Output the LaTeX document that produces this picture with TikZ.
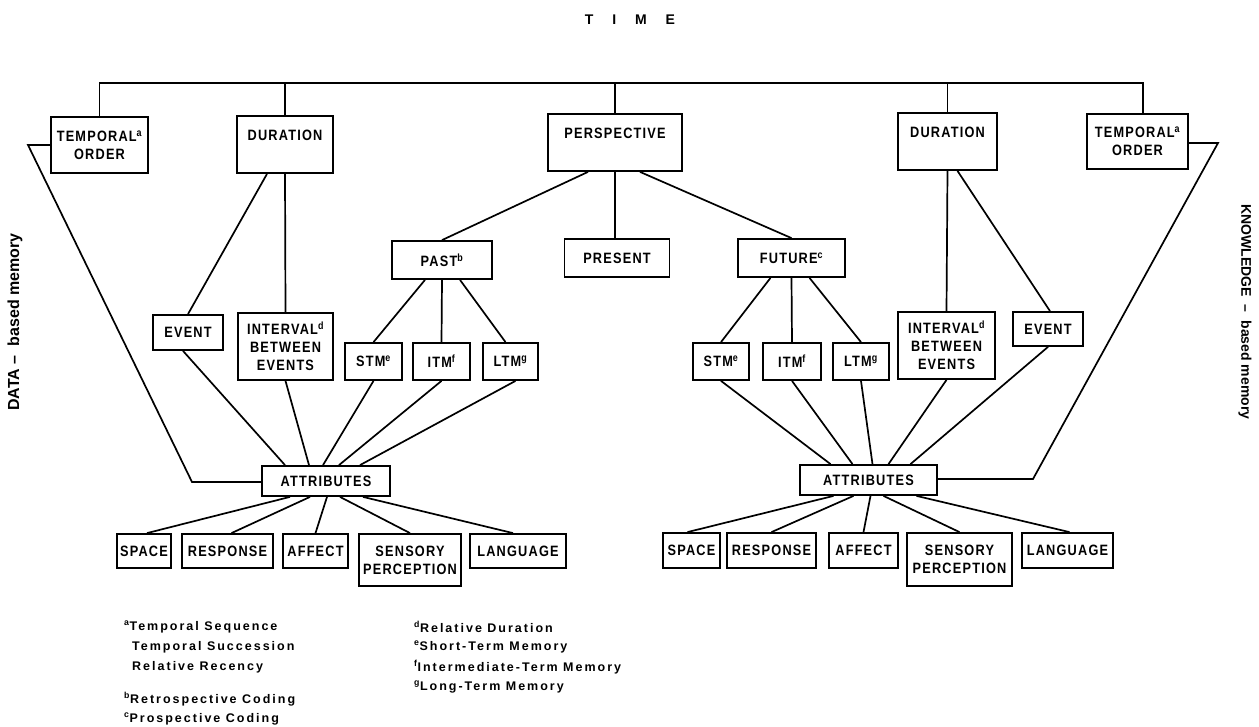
\documentclass[tikz,border=0pt]{standalone}
\usepackage{fontspec}
\setmainfont{Liberation Sans}
\newfontfamily\boxfont{Liberation Sans}[LetterSpace=8,FakeStretch=0.85]
\newfontfamily\notefont{Liberation Sans}[LetterSpace=16]
\usetikzlibrary{calc}
\begin{document}
\begin{tikzpicture}[x=1pt,y=-1pt,
  box/.style={draw, line width=1.8pt, inner sep=0pt, align=center,
    font=\boxfont\bfseries\fontsize{15}{18}\selectfont},
  ln/.style={line width=1.7pt},
  fn/.style={anchor=west, inner sep=0pt, font=\notefont\bfseries\fontsize{12.5}{14}\selectfont},
  side/.style={inner sep=0pt, font=\bfseries}]
\useasboundingbox (0,0) rectangle (1259,727);

\node[inner sep=0pt, font=\bfseries\fontsize{14}{16}\selectfont] (time) at (630,20) {T\hspace{1.35em}I\hspace{1.35em}M\hspace{1.35em}E};

% top row
\node[box, minimum width=97pt, minimum height=56pt] (tol) at (99.5,145) {TEMPORAL\textsuperscript{a}\\ORDER};
\node[box, minimum width=96pt, minimum height=57pt] (durl) at (285,144.5) {DURATION\\[-5pt]\strut};
\node[box, minimum width=134pt, minimum height=57pt] (persp) at (615,142.5) {PERSPECTIVE\\[-5pt]\strut};
\node[box, minimum width=99pt, minimum height=57pt] (durr) at (947.5,141.5) {DURATION\\[-5pt]\strut};
\node[box, minimum width=101pt, minimum height=55pt] (tor) at (1137.5,141.5) {TEMPORAL\textsuperscript{a}\\ORDER};

% perspective row
\node[box, minimum width=100pt, minimum height=38pt] (past) at (442,260) {PAST\textsuperscript{b}};
\node[box, minimum width=105pt, minimum height=38pt] (present) at (617,258) {PRESENT};
\node[box, minimum width=107pt, minimum height=38pt] (future) at (791.5,258) {FUTURE\textsuperscript{c}};

% memory row
\node[box, minimum width=70pt, minimum height=35pt] (eventl) at (188,332.5) {EVENT};
\node[box, minimum width=95pt, minimum height=67pt] (intl) at (285.5,346.5) {INTERVAL\textsuperscript{d}\\BETWEEN\\EVENTS};
\node[box, minimum width=57pt, minimum height=37pt] (stml) at (373.5,361.5) {STM\textsuperscript{e}};
\node[box, minimum width=57pt, minimum height=37pt] (itml) at (441.5,361.5) {ITM\textsuperscript{f}};
\node[box, minimum width=55pt, minimum height=37pt] (ltml) at (510.5,361.5) {LTM\textsuperscript{g}};
\node[box, minimum width=56pt, minimum height=37pt] (stmr) at (721,361.5) {STM\textsuperscript{e}};
\node[box, minimum width=58pt, minimum height=37pt] (itmr) at (792,361.5) {ITM\textsuperscript{f}};
\node[box, minimum width=56pt, minimum height=37pt] (ltmr) at (861,361.5) {LTM\textsuperscript{g}};
\node[box, minimum width=97pt, minimum height=67pt] (intr) at (946.5,345.5) {INTERVAL\textsuperscript{d}\\BETWEEN\\EVENTS};
\node[box, minimum width=70pt, minimum height=34pt] (eventr) at (1048,329) {EVENT};

% attributes
\node[box, minimum width=128pt, minimum height=30pt] (attrl) at (326,481) {ATTRIBUTES};
\node[box, minimum width=137pt, minimum height=30pt] (attrr) at (868.5,480) {ATTRIBUTES};

% bottom row left
\node[box, minimum width=54pt, minimum height=34pt] (spacel) at (144,551) {SPACE};
\node[box, minimum width=91pt, minimum height=34pt] (respl) at (227.5,551) {RESPONSE};
\node[box, minimum width=65pt, minimum height=34pt] (affl) at (315.5,551) {AFFECT};
\node[box, minimum width=102pt, minimum height=52pt] (sensl) at (410,560) {SENSORY\\PERCEPTION};
\node[box, minimum width=96pt, minimum height=34pt] (langl) at (518,551) {LANGUAGE};
% bottom row right
\node[box, minimum width=57pt, minimum height=35pt] (spacer) at (691.5,550.5) {SPACE};
\node[box, minimum width=89pt, minimum height=35pt] (respr) at (771.5,550.5) {RESPONSE};
\node[box, minimum width=69pt, minimum height=35pt] (affr) at (863.5,550.5) {AFFECT};
\node[box, minimum width=105pt, minimum height=53pt] (sensr) at (959.5,559.5) {SENSORY\\PERCEPTION};
\node[box, minimum width=91pt, minimum height=35pt] (langr) at (1067.5,550.5) {LANGUAGE};

% side labels
\node[side, rotate=90, font=\bfseries\fontsize{16}{18}\selectfont] (datal) at (15,322) {DATA\ -- \ based memory};
\node[side, rotate=-90, font=\bfseries\fontsize{14}{16}\selectfont] (knowl) at (1245,312) {KNOWLEDGE\ \ --\ \ based memory};

% footnotes
\node[fn] (fa1) at (124,627) {\textsuperscript{a}Temporal Sequence};
\node[fn] (fa2) at (132,647) {Temporal Succession};
\node[fn] (fa3) at (132,667) {Relative Recency};
\node[fn] (fb) at (124,699) {\textsuperscript{b}Retrospective Coding};
\node[fn] (fc) at (124,719) {\textsuperscript{c}Prospective Coding};
\node[fn] (fd) at (414,627) {\textsuperscript{d}Relative Duration};
\node[fn] (fe) at (414,647) {\textsuperscript{e}Short-Term Memory};
\node[fn] (ff) at (414,667) {\textsuperscript{f}Intermediate-Term Memory};
\node[fn] (fg) at (414,687) {\textsuperscript{g}Long-Term Memory};

% connectors: top bar
\coordinate (bar) at (0,83);
\draw[ln] (tol.north) -- (tol.north |- bar) -| ([xshift=5.5pt]tor.north);
\draw[ln] (durl.north) -- (durl.north |- bar);
\draw[ln] (persp.north) -- (persp.north |- bar);
\draw[ln] (durr.north) -- (durr.north |- bar);

% temporal order side lines
\coordinate (tl1) at (28,144);
\coordinate (tl2) at (192,482);
\draw[ln] (tol.west) -- (tol.west -| tl1) -- (tl2) -- (tl2 -| attrl.west);
\coordinate (tr1) at (1218,140);
\coordinate (tr2) at (1033,479);
\draw[ln] ([yshift=-1.5pt]tor.east) -- ([yshift=-1.5pt]tor.east -| tr1) -- (tr2) -- (tr2 -| attrr.east);

% duration
\draw[ln] (durl.south) -- (intl.north);
\draw[ln] ([xshift=-18pt]durl.south) -- (eventl.north);
\draw[ln] (durr.south) -- (intr.north);
\draw[ln] ([xshift=10pt]durr.south) -- ([xshift=2pt]eventr.north);

% perspective
\draw[ln] ([xshift=-27pt]persp.south) -- (past.north);
\draw[ln] (persp.south) -- (persp.south |- present.north);
\draw[ln] ([xshift=25pt]persp.south) -- (future.north);
\draw[ln] ([xshift=-17pt]past.south) -- (stml.north);
\draw[ln] (past.south) -- (itml.north);
\draw[ln] ([xshift=18pt]past.south) -- ([xshift=-5pt]ltml.north);
\draw[ln] ([xshift=-21pt]future.south) -- (stmr.north);
\draw[ln] (future.south) -- (itmr.north);
\draw[ln] ([xshift=18pt]future.south) -- (ltmr.north);

% to attributes left
\draw[ln] ([xshift=-5pt]eventl.south) -- ([xshift=-41pt]attrl.north);
\draw[ln] (intl.south) -- ([xshift=-17pt]attrl.north);
\draw[ln] (stml.south) -- ([xshift=-3pt]attrl.north);
\draw[ln] (itml.south) -- ([xshift=13pt]attrl.north);
\draw[ln] ([xshift=5pt]ltml.south) -- ([xshift=34pt]attrl.north);
% to attributes right
\draw[ln] (stmr.south) -- ([xshift=-38pt]attrr.north);
\draw[ln] (itmr.south) -- ([xshift=-16pt]attrr.north);
\draw[ln] (ltmr.south) -- ([xshift=4pt]attrr.north);
\draw[ln] (intr.south) -- ([xshift=20pt]attrr.north);
\draw[ln] (eventr.south) -- ([xshift=42pt]attrr.north);

% attributes to bottom boxes
\draw[ln] ([xshift=-36pt]attrl.south) -- ([xshift=3pt]spacel.north);
\draw[ln] ([xshift=-16pt]attrl.south) -- ([xshift=4pt]respl.north);
\draw[ln] ([xshift=1pt]attrl.south) -- (affl.north);
\draw[ln] ([xshift=14pt]attrl.south) -- (sensl.north);
\draw[ln] ([xshift=37pt]attrl.south) -- ([xshift=-5pt]langl.north);
\draw[ln] ([xshift=-35pt]attrr.south) -- ([xshift=-4pt]spacer.north);
\draw[ln] ([xshift=-15pt]attrr.south) -- (respr.north);
\draw[ln] ([xshift=2pt]attrr.south) -- (affr.north);
\draw[ln] ([xshift=15pt]attrr.south) -- (sensr.north);
\draw[ln] ([xshift=48pt]attrr.south) -- ([xshift=2pt]langr.north);
\end{tikzpicture}
\end{document}
